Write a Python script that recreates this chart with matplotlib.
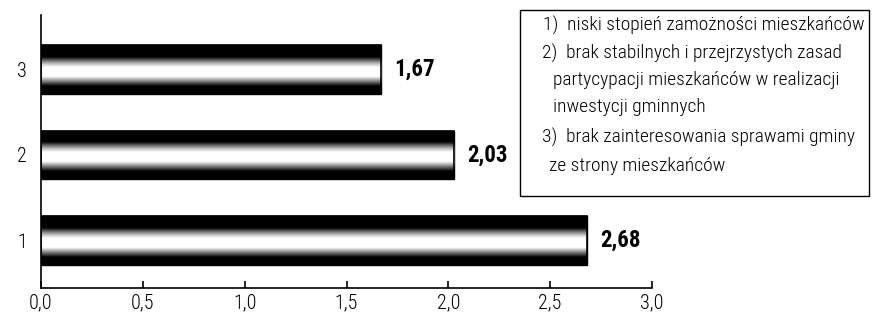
import numpy as np
import matplotlib
matplotlib.use("Agg")
import matplotlib.pyplot as plt
from matplotlib import font_manager
from matplotlib.patches import Rectangle

categories = [1, 2, 3]
values = [2.68, 2.03, 1.67]
value_labels = ['2,68', '2,03', '1,67']
xticks = [0.0, 0.5, 1.0, 1.5, 2.0, 2.5, 3.0]
xtick_labels = ['0,0', '0,5', '1,0', '1,5', '2,0', '2,5', '3,0']
legend_lines = [
    ('1)  niski stopień zamożności mieszkańców', 543),
    ('2)  brak stabilnych i przejrzystych zasad', 542),
    ('partycypacji mieszkańców w realizacji', 553),
    ('inwestycji gminnych', 553),
    ('3)  brak zainteresowania sprawami gminy', 542),
    ('ze strony mieszkańców', 549),
]

# pick a narrow face if one is around, otherwise a plain sans at a smaller size
stretches = {}
for f in font_manager.fontManager.ttflist:
    stretches.setdefault(f.name, set()).add(f.stretch)
if 'Liberation Sans Narrow' in stretches:
    fam, stretch, k = 'Liberation Sans Narrow', 'normal', 1.0
elif 'Roboto Condensed' in stretches:
    fam, stretch, k = 'Roboto Condensed', 'normal', 1.0
elif 'condensed' in stretches.get('DejaVu Sans', set()):
    fam, stretch, k = 'DejaVu Sans', 'condensed', 0.92
else:
    fam, stretch, k = 'Liberation Sans', 'normal', 0.9
plt.rcParams['font.family'] = [fam, 'DejaVu Sans']
plt.rcParams['font.stretch'] = stretch

W, H = 875, 313
fig = plt.figure(figsize=(W / 100, H / 100), dpi=100)
ax = fig.add_axes([41 / W, (H - 288) / H, (652 - 41) / W, (288 - 15) / H])

bar_h = 0.57
bars = ax.barh(categories, values, height=bar_h, color='black', edgecolor='black', linewidth=1)

# vertical shading profile of a bar: dark edges, light centre
t = np.linspace(0, 1, 200)
prof = np.interp(t, [0, 0.16, 0.36, 0.55, 0.62, 0.7, 0.76, 1],
                 [0, 0, 1, 1, 0.75, 0.35, 0, 0])
grad = prof[:, None]
for b in bars:
    x0, y0 = b.get_x(), b.get_y()
    im = ax.imshow(grad, cmap='gray', vmin=0, vmax=1, aspect='auto',
                   extent=(x0, x0 + b.get_width(), y0 + b.get_height(), y0),
                   zorder=2, interpolation='bilinear')
    im.set_clip_path(b)
    ax.add_patch(Rectangle((x0, y0), b.get_width(), b.get_height(), fill=False,
                           edgecolor='black', linewidth=1.2, zorder=3))

for c, v, lab in zip(categories, values, value_labels):
    ax.text(v + 0.065, c, lab, ha='left', va='center', fontsize=16.5 * k, fontweight='bold')

ax.set_xlim(0, 3.0)
ax.set_ylim(0.44, 3.64)
ax.set_xticks(xticks)
ax.set_xticklabels(xtick_labels, fontsize=14.5 * k, fontweight='light')
ax.set_yticks(categories)
ax.set_yticklabels([str(c) for c in categories], fontsize=14.5 * k, fontweight='light')
ax.tick_params(axis='x', direction='in', length=5, width=1.2, pad=4)
ax.tick_params(axis='y', length=0, pad=10)
ax.spines['top'].set_visible(False)
ax.spines['right'].set_visible(False)
for s in ('left', 'bottom'):
    ax.spines[s].set_linewidth(1.2)

# legend box
fig.patches.append(Rectangle((520 / W, (H - 196) / H), (869 - 520) / W, (196 - 10) / H,
                             transform=fig.transFigure, fill=False,
                             edgecolor='black', linewidth=1))
ys = [25, 53, 80, 107, 137, 166]
for (txt, x), y in zip(legend_lines, ys):
    fig.text(x / W, (H - y) / H, txt, ha='left', va='center', fontsize=14 * k,
             fontweight='light')

fig.savefig('out.png', dpi=100)
